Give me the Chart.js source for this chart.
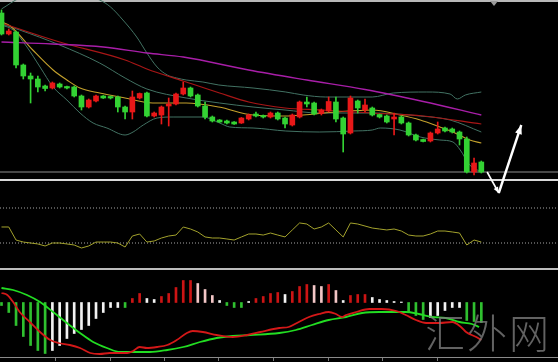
<!DOCTYPE html>
<html>
<head>
<meta charset="utf-8">
<script src="https://cdn.jsdelivr.net/npm/chart.js@4.4.1/dist/chart.umd.min.js"></script>
<style>
  html, body { margin:0; padding:0; background:#000; }
  #wrap { position:relative; width:558px; height:362px; background:#000; overflow:hidden; }
  canvas { position:absolute; left:0; }
  #cMain { top:0; z-index:3; }
  #cRsi { top:181px; z-index:1; }
  #cMacd { top:270px; z-index:1; }
  .rule { position:absolute; left:0; width:558px; z-index:2; }
  .tick { position:absolute; top:358px; width:1px; height:3px; background:#7a7a7a; }
  #wm { position:absolute; left:425px; top:311px; z-index:4; font-family:"Noto Sans CJK SC"; font-weight:300;
        font-size:40px; line-height:40px; letter-spacing:2px; color:rgba(125,125,125,0.78); white-space:nowrap; }
  #marker { position:absolute; left:490px; top:1px; width:0; height:0; z-index:5;
            border-left:4px solid transparent; border-right:4px solid transparent; border-top:5px solid #9a9a9a; }
</style>
</head>
<body>
<div id="wrap">
  <div class="rule" style="top:0;height:2px;background:#b8b8b8"></div>
  <div id="marker"></div>
  <canvas id="cMain" width="558" height="200"></canvas>
  <div class="rule" style="top:179px;height:2px;background:#d8d8d8"></div>
  <canvas id="cRsi" width="558" height="87"></canvas>
  <div class="rule" style="top:268px;height:2px;background:#bcbcbc"></div>
  <canvas id="cMacd" width="558" height="87"></canvas>
  <div class="rule" style="top:357px;height:1px;background:#8a8a8a"></div>
  <div id="wm">汇外网</div>
</div>
<script>
// ---------- DATA ----------
const open  = [167,146,148,115,104,101,94,92,96,93.5,93,84,73,79,84,83.5,83,73,68,82,87,64,65,74,76,86,92,85,74,63,60,59,58,57,61,66,64.5,63,67,62,55,63,78,77,66.5,69,78,62,47,79,70,72,65.5,64,61,63,57,45,40.5,39,47,52,51,48,41,8,18];
const high  = [170,151,149,116,107,104,95,98,97,94,94,85,81,85,84.5,84,84,74,89,87,88,68,74,82,87,98,93,86,78,64,60.5,60,58.5,62.5,66,68,65,68,68,63,66,79,83,78,71,83,83,63,84,80,81,73,66,65,67,64,58,46,41,48,58,53,52,49,43,22,19];
const low   = [145,145,112,101,77,88,89,91,92,91,83,70,72,78,81.5,81,68,61,61,81,63,63,56,54,75,85,83,73,61,58,57.5,56,55.5,56.5,60,63,62,62,60,52,54,62,73,65,65,68,58,28,46,67,68,64,62,57,45,56,44,39,38,38,46,48,47,35,7,5,7];
const close = [146,149,115,104,101,93,91.5,97,93,92,84,73,80,84,82,82,73,68,83,86.5,64,67,73,76,86,92,84,74,63,59,58,57,56,62,65,64,63,67,61,56,65,78,76,66,70,78.5,61,46,82,72,75,65,63,58,63,57,45,40,38.5,47,51,49,48,41,8,17,8];

// indicator lines: [candle index, value]
const maLong  = [[0,138],[7,136],[14,133],[20,127],[25,123],[34,110],[42,100],[50,90.5],[58,78.5],[66,65]];
const maMid   = [[0,157],[8,138],[17,120],[20,111],[25,99],[30,87],[34,78],[39,72],[44,70],[51,67],[58,64],[66,56]];
const maShort = [[0,158],[1.2,154],[4.3,130],[7.1,110],[9,100],[10.8,92],[13.5,87],[17,82],[20.8,77],[25.4,77],[29.9,73],[34.6,65],[39.1,64],[41.5,65],[46,68],[51,70],[54.8,65],[57.6,60],[60.3,53],[62.1,48],[64.4,40],[66,37]];
const bbMid   = [[0,156],[2.5,150],[8,135],[13.5,117],[17,102],[20,91],[25.4,82],[30,77],[34.6,73],[39,70],[43.7,67],[51,67],[57.6,64],[61.7,60],[66,48]];
const bbUp    = [[0,171],[2.5,182],[5.3,188],[8,186],[10.8,185],[13.5,180],[15,173],[16.7,160],[18.6,143],[20,127],[21.4,113],[22.8,105],[24.1,102],[25.4,100],[27.7,98],[29.9,95],[34.6,92],[39.1,88],[41.5,85],[44.6,83],[47.4,83],[51,83],[53.9,87],[58.5,88],[61.7,86],[62.7,81],[63.8,85],[66,88]];
const bbLow   = [[0,155],[1.6,150],[3.5,133],[5.3,113],[7.1,93],[9,80],[10.8,67],[12.6,57],[14.5,52],[17,45],[18.1,48],[19.5,55],[21.4,62],[23.6,63],[27.7,63],[30,57],[31.4,53],[34.6,52],[39.1,49],[43.7,48],[48.4,49],[51,50],[52.1,52],[54.8,50],[57.6,43],[60.3,40],[62.1,38],[63.1,30],[64.4,15],[66,8]];

const rsi = [48.3,48.3,33.4,31.1,30,28.9,26.6,30,30,28.9,27.7,24.3,26.6,31.1,31.1,31.1,30,25.4,38,40.3,31.1,32.3,35.7,38,39.1,48.3,46,42.6,36.9,35.7,35.7,34.6,33.4,36.9,40.3,40.3,39.1,41.4,39.1,36.9,44.9,52.9,51.7,46,48.3,52.9,44.9,36.9,52.9,51.7,49.4,47.1,46,44.9,46,43.7,39.1,38,38,40.3,43.7,43.7,42.6,41.4,27.7,33.4,31.1];
const rsiLevels = [70, 30];

const hist = [-3,-10,-23,-34,-43,-48,-51,-48,-43,-36,-31,-27,-23,-16,-10,-5,-5,-5,4,9,4,3,6,9,15,22,22,19,13,7,2,-3,-5,-5,1,4,6,9,10,8,11,16,18,17,16,18,12,2,7,8,8,5,3,2,1,0.5,-9,-13,-17,-15,-13,-8,-5,-5,-18,-19,-20];
const histTone = 'gggggggwwwwwwwwwwgrrwwrrrrrpppwgggwrrrrwrrrpprpwrrrwwwwwgggwwwwwggg';
const macdLine = [[0,9.5],[0.8,7.5],[1.6,0.5],[2.5,-9.5],[3.9,-19.5],[5.3,-29.5],[6.7,-37.5],[7.8,-40.5],[9.4,-42.5],[10.8,-45.5],[12.2,-50.5],[13.5,-51.5],[14.9,-50.5],[17.3,-50.5],[18.1,-48.5],[19,-44.5],[20,-45.5],[21.4,-44.5],[22.8,-42.5],[24.1,-37.5],[25.5,-30.5],[26.3,-28.5],[27.7,-29.5],[29.6,-32.5],[31.8,-34.5],[33.8,-32.5],[35.6,-29.5],[38.2,-25.5],[39.5,-24.5],[40.9,-19.5],[42.3,-14.5],[43.7,-11.5],[45,-9.5],[46,-11.5],[46.8,-14.5],[47.4,-12.5],[48.8,-9.5],[50.6,-6.5],[52.3,-6.5],[54.3,-8.5],[55.6,-12.5],[57,-17.5],[58.4,-20.5],[60.2,-20.5],[62,-19.5],[63.2,-24.5],[63.9,-29.5],[65.3,-34.5],[66,-37.5]];
const signalLine = [[0,14.5],[1.6,12.5],[3.5,7.5],[5.3,0.5],[7.1,-9.5],[9,-20.5],[10.8,-30.5],[12.6,-39.5],[14.5,-45.5],[16.3,-49.5],[18.1,-49.5],[20.4,-49.5],[22.8,-47.5],[25,-44.5],[27.3,-39.5],[29.6,-35.5],[31.8,-33.5],[34.2,-32.5],[38.2,-30.5],[40.5,-27.5],[42.7,-22.5],[45,-17.5],[47.4,-14.5],[49.6,-10.5],[52,-9.5],[54.3,-9.5],[55.6,-9.5],[57.4,-11.5],[59.2,-14.5],[61.1,-15.5],[63,-19.5],[64.7,-21.5],[65.7,-24.5]];

// drawn forecast arrows (index, price)
const forecastPath = [[66.8, 8], [68.4, -13], [71.5, 55]];

// ---------- LAYOUT ----------
const X_MIN = -0.2063, X_MAX = 76.547;
const UP = '#e81818', DOWN = '#33d233';
const toneColor = { g:'#2fc02f', w:'#f2f2f2', r:'#cc1414', p:'#f2c6c6' };

function opts(ymin, ymax){
  return {
    responsive:false, animation:false, devicePixelRatio:1, events:[],
    layout:{padding:0},
    plugins:{legend:{display:false}, tooltip:{enabled:false}},
    scales:{
      x:{type:'linear', min:X_MIN, max:X_MAX, display:false, offset:false, grid:{display:false}},
      y:{type:'linear', min:ymin, max:ymax, display:false, grid:{display:false}, beginAtZero:false}
    }
  };
}
function lineDs(pts, color, width, order, extra){
  return Object.assign({type:'line', data: pts.map(p=>({x:p[0], y:p[1]})), borderColor:color, borderWidth:width,
    pointRadius:0, fill:false, cubicInterpolationMode:'monotone', order}, extra||{});
}
const candleColor = c => close[c.dataIndex] >= open[c.dataIndex] ? UP : DOWN;

const arrowPlugin = {
  id:'arrows',
  afterDatasetsDraw(chart){
    const {ctx} = chart, xs = chart.scales.x, ys = chart.scales.y;
    const P = forecastPath.map(p => [xs.getPixelForValue(p[0]), ys.getPixelForValue(p[1])]);
    ctx.save();
    ctx.strokeStyle = '#ffffff'; ctx.fillStyle = '#ffffff'; ctx.lineJoin = 'miter';
    ctx.lineWidth = 1.6;
    ctx.beginPath(); ctx.moveTo(P[0][0], P[0][1]); ctx.lineTo(P[1][0], P[1][1]); ctx.stroke();
    ctx.lineWidth = 2.4;
    ctx.beginPath(); ctx.moveTo(P[1][0], P[1][1]); ctx.lineTo(P[2][0], P[2][1]); ctx.stroke();
    const head = (a, b, len, w) => {
      const ang = Math.atan2(b[1]-a[1], b[0]-a[0]);
      ctx.beginPath();
      ctx.moveTo(b[0], b[1]);
      ctx.lineTo(b[0]-len*Math.cos(ang)+w*Math.sin(ang), b[1]-len*Math.sin(ang)-w*Math.cos(ang));
      ctx.lineTo(b[0]-len*Math.cos(ang)-w*Math.sin(ang), b[1]-len*Math.sin(ang)+w*Math.cos(ang));
      ctx.closePath(); ctx.fill();
    };
    head(P[0], P[1], 6, 2.5);
    head(P[1], P[2], 9, 3.5);
    ctx.restore();
  }
};

// ---------- MAIN PRICE CHART ----------
const idx = close.map((_, i) => i);
const lastClose = close[close.length - 1];
new Chart(document.getElementById('cMain'), {
  type:'bar',
  data:{ datasets:[
    lineDs([[X_MIN,lastClose],[X_MAX,lastClose]], '#8c8c8c', 1, 9, {cubicInterpolationMode:'default'}),
    lineDs(bbUp, '#427263', 1, 5),
    lineDs(bbMid, '#427263', 1, 5),
    lineDs(bbLow, '#427263', 1, 5),
    lineDs(maLong, '#a81ea8', 1.3, 4),
    lineDs(maMid, '#a81616', 1.2, 4),
    lineDs(maShort, '#c4a12c', 1.1, 4),
    { type:'bar', data: idx.map(i => ({x:i, y:[low[i], high[i]]})), backgroundColor:candleColor,
      barThickness:1, grouped:false, order:1 },
    { type:'bar', data: idx.map(i => ({x:i, y:[open[i], close[i]]})), backgroundColor:candleColor,
      barThickness:5, grouped:false, order:0 }
  ]},
  options: opts(-20, 180),
  plugins:[arrowPlugin]
});

// ---------- RSI PANEL ----------
new Chart(document.getElementById('cRsi'), {
  type:'line',
  data:{ datasets:[
    ...rsiLevels.map(v => lineDs([[X_MIN,v],[X_MAX,v]], '#a6a6a6', 1, 3, {borderDash:[1,2], cubicInterpolationMode:'default'})),
    lineDs(idx.map(i => [i, rsi[i]]), '#a3a22c', 1, 0, {cubicInterpolationMode:'default', tension:0})
  ]},
  options: opts(1.43, 100.86)
});

// ---------- MACD PANEL ----------
new Chart(document.getElementById('cMacd'), {
  type:'bar',
  data:{ datasets:[
    { type:'bar', data: idx.map(i => ({x:i, y:hist[i]})), backgroundColor: c => toneColor[histTone[c.dataIndex]],
      barThickness:2, grouped:false, order:2 },
    lineDs(macdLine, '#d41818', 1.8, 0),
    lineDs(signalLine, '#22dd22', 1.8, 1)
  ]},
  options: opts(-54.5, 32.5)
});

// time-axis ticks under the bottom rule
const tickIdx = [7.36, 14.9, 22.35, 29.8, 37.3, 44.9, 52.3, 59.9];
const wrap = document.getElementById('wrap');
tickIdx.forEach(t => {
  const d = document.createElement('div');
  d.className = 'tick';
  d.style.left = Math.round(1.5 + 7.27 * t) + 'px';
  wrap.appendChild(d);
});
</script>
</body>
</html>
